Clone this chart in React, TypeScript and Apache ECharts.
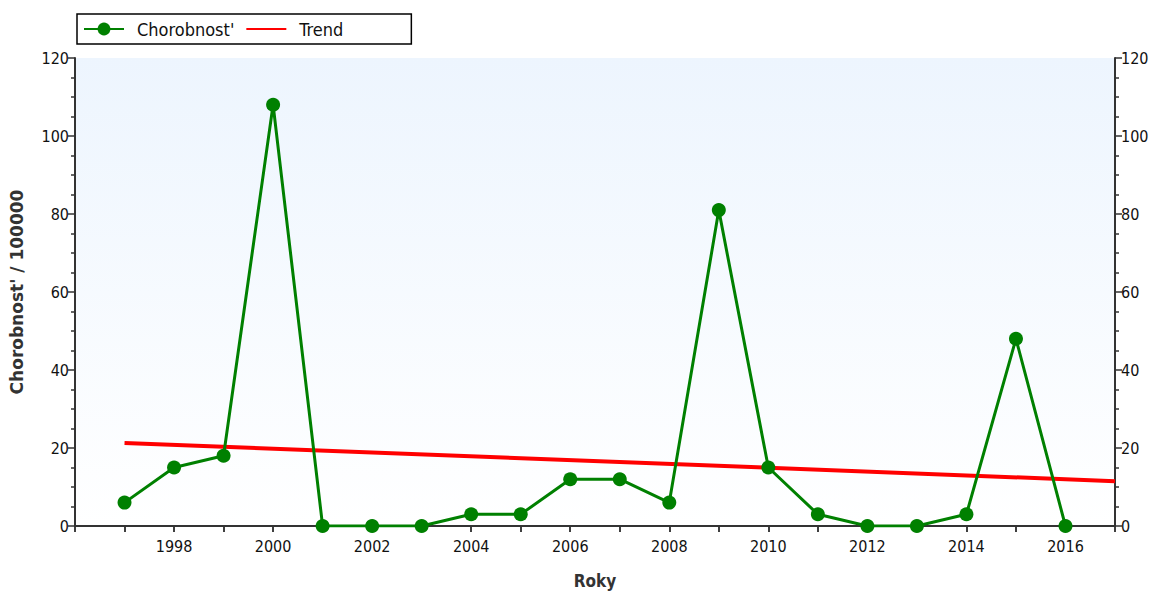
import React, { useEffect, useRef } from "react";
import * as echarts from "echarts";

const years = [1997, 1998, 1999, 2000, 2001, 2002, 2003, 2004, 2005, 2006, 2007, 2008, 2009, 2010, 2011, 2012, 2013, 2014, 2015, 2016];
const incidence = [6, 15, 18, 108, 0, 0, 0, 3, 3, 12, 12, 6, 81, 15, 3, 0, 0, 3, 48, 0];
const trendYears = [1997, 2017];
const trendValues = [21.3, 11.5];
const yTicks = [0, 20, 40, 60, 80, 100, 120];

const FONT = "'DejaVu Sans Condensed', 'DejaVu Sans', sans-serif";

export default function App() {
  const ref = useRef<HTMLDivElement>(null);
  useEffect(() => {
    if (!ref.current) return;
    const chart = echarts.init(ref.current, null, { renderer: "svg" });
    const axisColor = "#333";
    const yCommon = {
      type: "value" as const,
      min: yTicks[0],
      max: yTicks[yTicks.length - 1],
      interval: 20,
      splitLine: { show: false },
      axisLine: { show: true, lineStyle: { color: axisColor, width: 2 } },
      axisTick: { show: true, length: 7, lineStyle: { color: axisColor, width: 1.5 } },
      minorTick: { show: true, splitNumber: 4, length: 4, lineStyle: { color: axisColor, width: 1.5 } },
      axisLabel: { color: "#111", fontSize: 16, fontFamily: FONT, margin: 6 },
    };
    chart.setOption({
      animation: false,
      textStyle: { fontFamily: FONT },
      legend: {
        left: 77,
        top: 14,
        padding: [6, 68, 6, 6],
        borderColor: "#000",
        borderWidth: 1.5,
        itemWidth: 40,
        itemHeight: 16,
        itemGap: 11,
        textStyle: { fontSize: 18, color: "#111", fontFamily: FONT, padding: [0, 0, 0, 8] },
        data: [
          { name: "Chorobnost'" },
          { name: "Trend", itemStyle: { opacity: 0 } },
        ],
      },
      grid: {
        left: 75,
        right: 42,
        top: 58,
        bottom: 63,
        show: true,
        borderWidth: 0,
        backgroundColor: new echarts.graphic.LinearGradient(0, 0, 0, 1, [
          { offset: 0, color: "#edf5fe" },
          { offset: 1, color: "#ffffff" },
        ]),
      },
      xAxis: [
        {
          type: "value",
          min: 1996,
          max: 2017,
          interval: 1,
          name: "Roky",
          nameLocation: "middle",
          nameGap: 46,
          nameTextStyle: { fontSize: 17, fontWeight: "bold", color: "#333", fontFamily: FONT },
          splitLine: { show: false },
          axisLine: { show: true, lineStyle: { color: axisColor, width: 2 } },
          axisTick: { show: true, length: 6, lineStyle: { color: axisColor, width: 1.5 } },
          axisLabel: {
            color: "#111",
            fontSize: 16,
            fontFamily: FONT,
            margin: 12,
            formatter: (v: number) => (v % 2 === 0 && v !== 1996 ? String(v) : ""),
          },
        },
        {
          type: "value",
          position: "top",
          min: 1996,
          max: 2017,
          interval: 1,
          splitLine: { show: false },
          axisLine: { show: true, lineStyle: { color: axisColor, width: 2 } },
          axisTick: { show: true, inside: true, length: 6, lineStyle: { color: axisColor, width: 1.5 } },
          axisLabel: { show: false },
        },
      ],
      yAxis: [
        {
          ...yCommon,
          position: "left",
          name: "Chorobnost' / 100000",
          nameLocation: "middle",
          nameGap: 50,
          nameTextStyle: { fontSize: 17, fontWeight: "bold", color: "#333", fontFamily: "'DejaVu Sans', sans-serif" },
        },
        { ...yCommon, position: "right" },
      ],
      series: [
        {
          name: "Trend",
          type: "line",
          data: trendYears.map((y, i) => [y, trendValues[i]]),
          symbol: "none",
          lineStyle: { color: "#ff0000", width: 4 },
          itemStyle: { color: "#ff0000" },
          z: 2,
        },
        {
          name: "Chorobnost'",
          type: "line",
          data: years.map((y, i) => [y, incidence[i]]),
          symbol: "circle",
          symbolSize: 14,
          lineStyle: { color: "#008000", width: 3 },
          itemStyle: { color: "#008000" },
          z: 3,
        },
      ],
    });
    return () => chart.dispose();
  }, []);
  return (
    <div
      ref={ref}
      style={{ position: "fixed", left: 0, top: 0, width: 1157, height: 594, background: "#fff" }}
    />
  );
}
